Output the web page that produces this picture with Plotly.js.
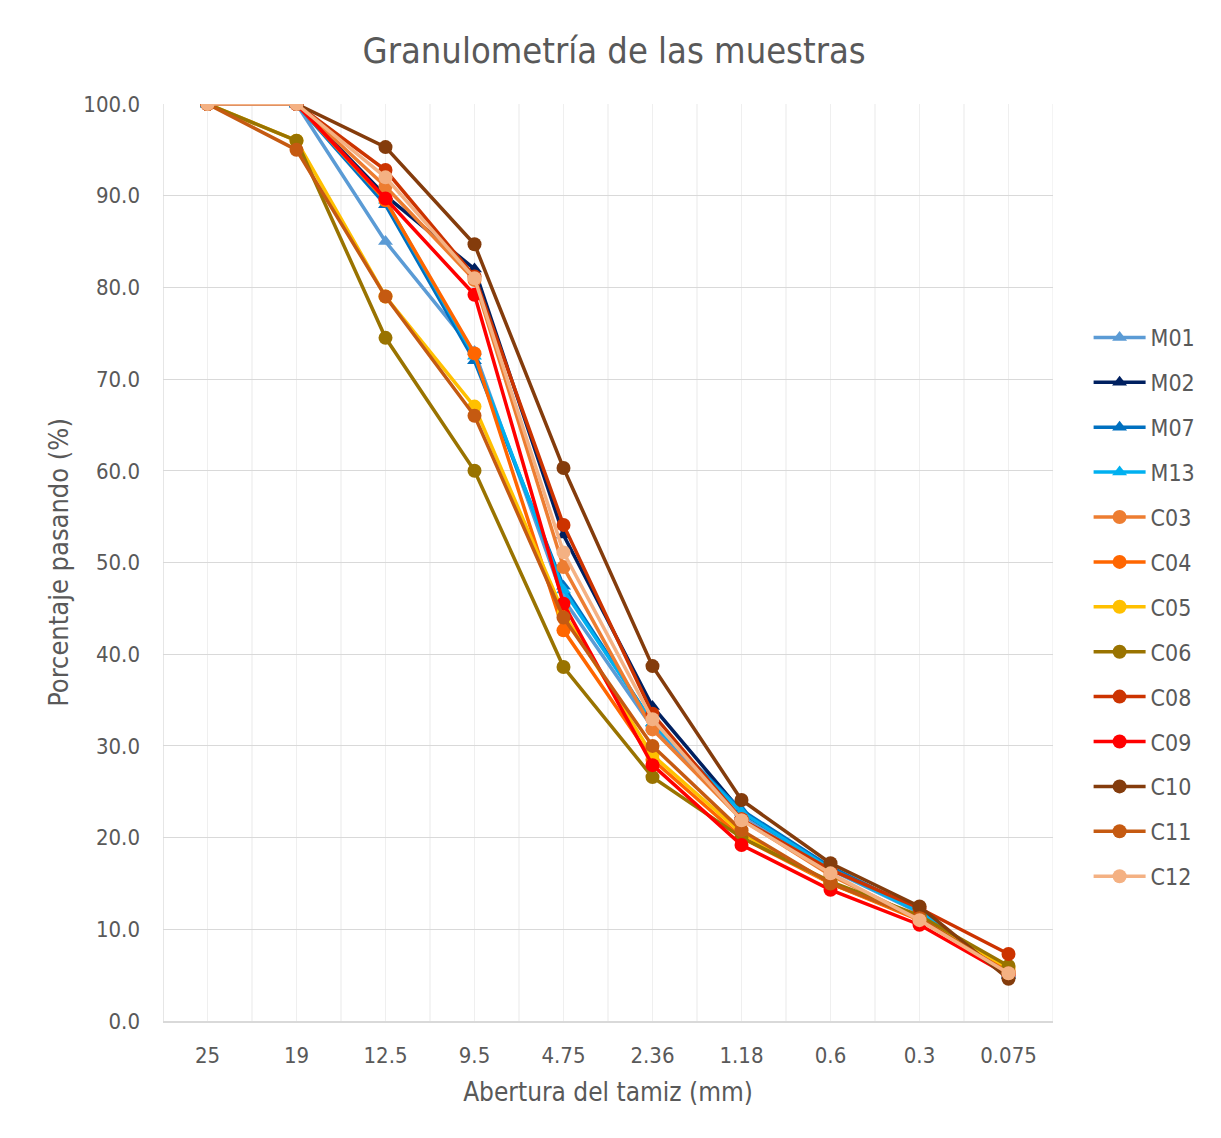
<!DOCTYPE html>
<html>
<head>
<meta charset="utf-8">
<script src="https://cdn.plot.ly/plotly-3.0.1.min.js"></script>
<style>
  html, body { margin: 0; padding: 0; background: #ffffff; }
  #chart { width: 1221px; height: 1138px; }
</style>
</head>
<body>
<div id="chart"></div>
<script>
// Sieve openings (mm)
const sieves = ["25", "19", "12.5", "9.5", "4.75", "2.36", "1.18", "0.6", "0.3", "0.075"];

// Percent passing per sample
const M01 = [100, 100, 85.0, 73.0, 46.0, 32.0, 22.5, 16.5, 11.8, 5.2];
const M02 = [100, 100, 90.0, 82.0, 53.0, 34.3, 22.8, 16.7, 12.0, 5.0];
const M07 = [100, 100, 89.0, 72.0, 47.4, 32.5, 23.0, 16.8, 12.0, 5.0];
const M13 = [100, 100, 89.5, 72.5, 47.0, 32.5, 22.8, 16.6, 11.9, 5.1];
const C03 = [100, 100, 91.0, 80.8, 49.5, 31.8, 22.0, 15.9, 11.2, 5.2];
const C04 = [100, 100, 89.5, 72.8, 42.6, 28.5, 20.0, 15.0, 11.0, 5.5];
const C05 = [100, 96.0, 79.0, 67.0, 44.5, 29.0, 20.5, 15.0, 11.2, 5.8];
const C06 = [100, 96.0, 74.5, 60.0, 38.6, 26.6, 20.0, 15.2, 11.5, 6.0];
const C08 = [100, 100, 92.8, 81.2, 54.1, 33.5, 22.0, 16.5, 12.3, 7.3];
const C09 = [100, 100, 89.7, 79.2, 45.5, 27.9, 19.2, 14.3, 10.5, 5.0];
const C10 = [100, 100, 95.3, 84.7, 60.3, 38.7, 24.1, 17.2, 12.5, 4.6];
const C11 = [100, 95.0, 79.0, 66.0, 44.0, 30.0, 20.8, 15.0, 11.2, 5.2];
const C12 = [100, 100, 92.0, 81.0, 51.1, 32.9, 21.9, 16.1, 11.0, 5.2];

const names = ["M01", "M02", "M07", "M13", "C03", "C04", "C05", "C06", "C08", "C09", "C10", "C11", "C12"];
const values = [M01, M02, M07, M13, C03, C04, C05, C06, C08, C09, C10, C11, C12];
const colors = ["#5B9BD5", "#002060", "#0070C0", "#00B0F0", "#ED7D31", "#FF6600", "#FFC000",
                "#997300", "#CC3300", "#FF0000", "#843C0C", "#C55A11", "#F4B183"];

const FONT = "Tahoma, 'DejaVu Sans Condensed', 'DejaVu Sans', sans-serif";
const TXT = "#595959";

const traces = names.map((n, i) => ({
  type: "scatter",
  mode: "lines+markers",
  name: n,
  legendgroup: n,
  x: sieves,
  y: values[i],
  line: { color: colors[i], width: 3.5 },
  marker: {
    color: colors[i],
    size: n.startsWith("M") ? 13 : 14,
    symbol: n.startsWith("M") ? "triangle-up" : "circle"
  }
}));

// light vertical lines between sieve categories
const shapes = [];
for (let k = 0; k <= sieves.length; k++) {
  shapes.push({
    type: "line", xref: "x", yref: "paper",
    x0: k - 0.5, x1: k - 0.5, y0: 0, y1: 1,
    line: { color: k === 0 ? "#D9D9D9" : "#EFEFEF", width: 1.3 },
    layer: "below"
  });
}

const layout = {
  width: 1221,
  height: 1138,
  paper_bgcolor: "#ffffff",
  plot_bgcolor: "#ffffff",
  margin: { l: 163, r: 168, t: 104, b: 117 },
  font: { family: FONT, color: TXT, size: 18 },
  title: {
    text: "Granulometría de las muestras",
    font: { family: FONT, size: 36, color: TXT },
    x: 0.503, xref: "container", xanchor: "center",
    y: 1 - 50 / 1138, yref: "container", yanchor: "middle"
  },
  xaxis: {
    type: "category",
    range: [-0.5, 9.5],
    showgrid: true,
    gridcolor: "#EFEFEF",
    gridwidth: 1.3,
    showline: true,
    linecolor: "#D9D9D9",
    linewidth: 1.5,
    ticks: "",
    ticklabelstandoff: 14,
    tickfont: { family: FONT, size: 22, color: TXT },
    zeroline: false,
    title: { text: "Abertura del tamiz (mm)", font: { family: FONT, size: 26, color: TXT }, standoff: 16 }
  },
  yaxis: {
    range: [0, 100],
    dtick: 10,
    tick0: 0,
    tickformat: ".1f",
    showgrid: true,
    gridcolor: "#D9D9D9",
    gridwidth: 1.3,
    showline: false,
    zeroline: false,
    ticks: "",
    ticklabelstandoff: 22,
    tickfont: { family: FONT, size: 22, color: TXT },
    title: { text: "Porcentaje pasando (%)", font: { family: FONT, size: 27, color: TXT }, standoff: 6 }
  },
  shapes: shapes,
  showlegend: true,
  legend: {
    x: 1.04, xanchor: "left",
    y: 0.4515, yanchor: "middle",
    font: { family: FONT, size: 23, color: TXT },
    tracegroupgap: 12,
    itemwidth: 52,
    bgcolor: "rgba(0,0,0,0)"
  }
};

Plotly.newPlot("chart", traces, layout, { displayModeBar: false, responsive: false });
</script>
</body>
</html>
